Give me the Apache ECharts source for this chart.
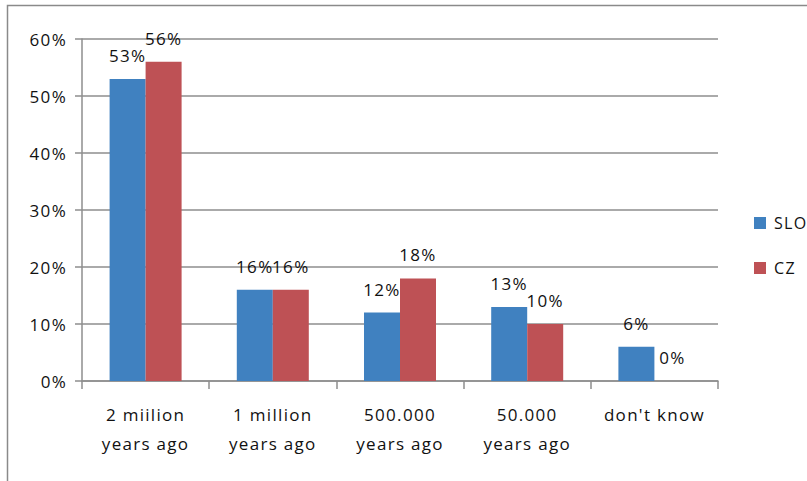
<!DOCTYPE html>
<html>
<head>
<meta charset="utf-8">
<script src="https://cdn.jsdelivr.net/npm/echarts@6/dist/echarts.min.js"></script>
<style>
  html, body { margin: 0; padding: 0; background: #fff; }
  #chart { width: 807px; height: 481px; }
  /* loosely spaced lettering for all chart text */
  #chart svg text { letter-spacing: 1.3px; }
</style>
</head>
<body>
<div id="chart"></div>
<script>
// Answers per option, in percent
const categories = ['2 miilion\nyears ago', '1 million\nyears ago', '500.000\nyears ago', '50.000\nyears ago', "don't know"];
const sloValues = [53, 16, 12, 13, 6];
const czValues = [56, 16, 18, 10, 0];
const yTicks = { min: 0, max: 60, interval: 10 };

const textFont = 'Open Sans';
const textSize = 17;
const textColor = '#111';
const gridColor = '#8e8e8e';

const chart = echarts.init(document.getElementById('chart'), null, { renderer: 'svg' });

const barLabel = {
  show: true,
  position: 'top',
  distance: 15,
  formatter: '{c}%',
  fontFamily: textFont,
  fontSize: textSize,
  color: textColor
};

chart.setOption({
  animation: false,
  backgroundColor: '#fff',
  graphic: [{
    type: 'rect',
    left: 5,
    top: 3,
    shape: { width: 830, height: 500 },
    style: { fill: 'none', stroke: '#8a8a8a', lineWidth: 1.5 },
    silent: true
  }],
  grid: { left: 82, right: 89, top: 39, bottom: 100 },
  legend: {
    orient: 'vertical',
    left: 749,
    top: 210,
    itemWidth: 12,
    itemHeight: 12,
    itemGap: 29,
    icon: 'rect',
    textStyle: { fontFamily: textFont, fontSize: 16, color: textColor, padding: [0, 0, 0, 3] },
    data: ['SLO', 'CZ']
  },
  xAxis: {
    type: 'category',
    data: categories,
    axisLine: { lineStyle: { color: gridColor, width: 1.5 } },
    axisTick: { show: true, length: 8, alignWithLabel: false, lineStyle: { color: gridColor, width: 1.5 } },
    axisLabel: {
      fontFamily: textFont,
      fontSize: textSize,
      color: textColor,
      lineHeight: 29,
      margin: 19,
      interval: 0
    }
  },
  yAxis: {
    type: 'value',
    min: yTicks.min,
    max: yTicks.max,
    interval: yTicks.interval,
    axisLine: { show: true, lineStyle: { color: gridColor, width: 1.5 } },
    axisTick: { show: true, length: 7, lineStyle: { color: gridColor, width: 1.5 } },
    splitLine: { lineStyle: { color: gridColor, width: 1.5 } },
    axisLabel: {
      formatter: '{value}%',
      fontFamily: textFont,
      fontSize: textSize,
      color: textColor,
      margin: 15
    }
  },
  series: [
    {
      name: 'SLO',
      type: 'bar',
      data: sloValues,
      barWidth: 36,
      barGap: '0%',
      itemStyle: { color: '#4081c0' },
      label: barLabel
    },
    {
      name: 'CZ',
      type: 'bar',
      data: czValues,
      barWidth: 36,
      itemStyle: { color: '#be5155' },
      label: barLabel
    }
  ]
});
</script>
</body>
</html>
